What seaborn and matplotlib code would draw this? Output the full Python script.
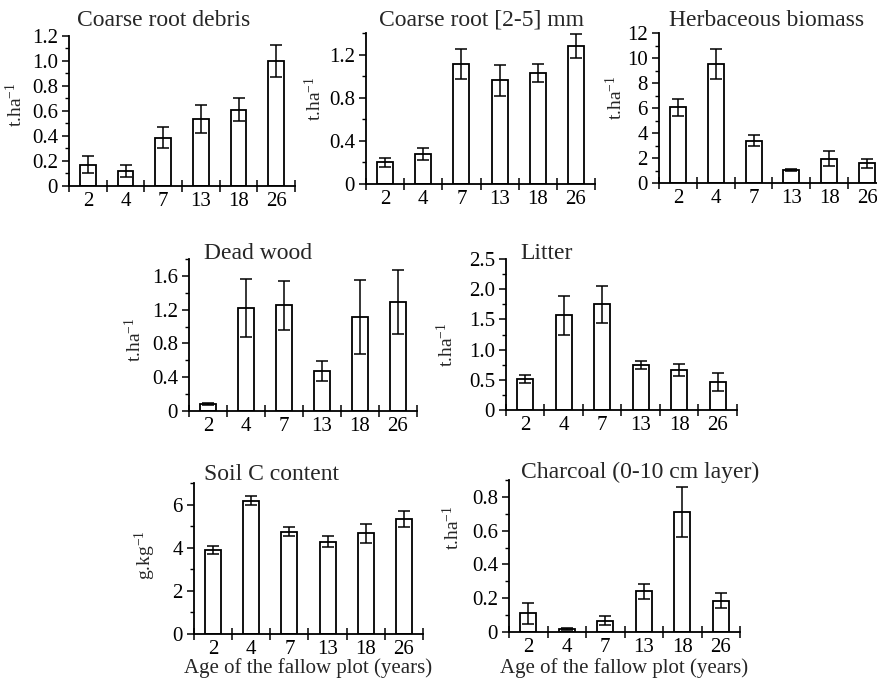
import matplotlib
matplotlib.use("Agg")
import matplotlib.pyplot as plt
import seaborn as sns
import pandas as pd
from matplotlib.ticker import MultipleLocator, FixedLocator

# ---------------- STYLE ----------------
sns.set_style("ticks")
plt.rcParams['font.family'] = ['Liberation Serif', 'DejaVu Serif']
plt.rcParams['mathtext.fontset'] = 'custom'
plt.rcParams['mathtext.rm'] = 'Liberation Serif'
plt.rcParams['mathtext.it'] = 'Liberation Serif:italic'

W, H = 878, 684

# ---------------- DATA ----------------
AGES = ["2", "4", "7", "13", "18", "26"]

debris_mean = [0.17, 0.12, 0.385, 0.535, 0.61, 1.0]
debris_err = [0.07, 0.045, 0.085, 0.11, 0.09, 0.13]

root_mean = [0.20, 0.275, 1.11, 0.96, 1.03, 1.28]
root_err = [0.04, 0.055, 0.14, 0.14, 0.085, 0.11]

herb_mean = [6.05, 9.5, 3.4, 1.05, 1.95, 1.57]
herb_err = [0.7, 1.2, 0.42, 0.05, 0.6, 0.38]

wood_mean = [0.08, 1.22, 1.25, 0.47, 1.115, 1.29]
wood_err = [0.01, 0.34, 0.29, 0.12, 0.44, 0.38]

litter_mean = [0.51, 1.565, 1.75, 0.75, 0.66, 0.46]
litter_err = [0.07, 0.33, 0.31, 0.065, 0.10, 0.15]

soil_mean = [3.9, 6.18, 4.75, 4.28, 4.66, 5.34]
soil_err = [0.2, 0.2, 0.23, 0.25, 0.45, 0.36]

charcoal_mean = [0.11, 0.016, 0.068, 0.24, 0.71, 0.185]
charcoal_err = [0.06, 0.005, 0.024, 0.045, 0.15, 0.045]

THA = "t.ha$^{-1}$"
GKG = "g.kg$^{-1}$"
XLAB = "Age of the fallow plot (years)"

# panel: title, mean, err, ylabel, ymax, major, minor, axes px (left, top, right, bottom),
#        title px (x, y), ylabel px (x, y), xlabel
PANELS = [
    ("Coarse root debris", debris_mean, debris_err, THA, 1.2, 0.2, 0.1,
     (69, 36, 295, 186), (164, 20), (16, 105), False),
    ("Coarse root [2-5] mm", root_mean, root_err, THA, 1.4, 0.4, 0.2,
     (366, 33, 595, 184), (482, 20), (315, 99), False),
    ("Herbaceous biomass", herb_mean, herb_err, THA, 12, 2, 1,
     (659, 33, 886, 183), (767, 20), (616, 98), False),
    ("Dead wood", wood_mean, wood_err, THA, 1.8, 0.4, 0.2,
     (189, 259, 417, 411), (258, 253), (135, 340), False),
    ("Litter", litter_mean, litter_err, THA, 2.5, 0.5, 0.25,
     (506, 259, 737, 410), (547, 253), (447, 345), False),
    ("Soil C content", soil_mean, soil_err, GKG, 7, 2, 1,
     (194, 483, 423, 634), (271, 474), (145, 555), True),
    ("Charcoal (0-10 cm layer)", charcoal_mean, charcoal_err, THA, 0.9, 0.2, 0.1,
     (509, 480, 740, 632), (640, 472), (452, 528), True),
]


def fmt_tick(v, step):
    if abs(v) < 1e-9:
        return "0"
    if step >= 1:
        return f"{v:.0f}"
    return f"{v:.1f}"


fig = plt.figure(figsize=(W / 100, H / 100), dpi=100)

for (titulo, media, error, ylab, ymax, major, minor,
     caja, pos_tit, pos_ylab, con_xlab) in PANELS:
    l, t, r, b = caja
    ax = fig.add_axes([l / W, 1 - b / H, (r - l) / W, (b - t) / H])

    df = pd.DataFrame({"edad": AGES, "valor": media})
    sns.barplot(data=df, x="edad", y="valor", order=AGES, color="white",
                saturation=1, edgecolor="black", linewidth=1.3, width=0.42,
                errorbar=None, ax=ax)
    ax.errorbar(range(len(AGES)), media, yerr=error, fmt="none",
                ecolor="black", elinewidth=1.1, capsize=4.5, capthick=1.1, zorder=5)

    ax.set_xlabel("")
    ax.set_ylabel("")
    sns.despine(ax=ax)
    for s in ("left", "bottom"):
        ax.spines[s].set_linewidth(1.3)
        ax.spines[s].set_color("black")

    # y ticks (no tick above ymax)
    n = int(ymax / major + 1e-9)
    ticks = [i * major for i in range(n + 1)]
    ax.set_yticks(ticks)
    ax.set_yticklabels([fmt_tick(v, major) for v in ticks])
    ax.yaxis.set_minor_locator(MultipleLocator(minor))
    ax.tick_params(axis="y", which="major", direction="out", length=5,
                   width=1.1, labelsize=15, pad=3, colors="black")
    ax.tick_params(axis="y", which="minor", direction="out", length=3,
                   width=1.0, colors="black")

    # x ticks: labels at bars, marks at slot boundaries
    ax.set_xticks(range(len(AGES)))
    ax.set_xticklabels(AGES)
    ax.xaxis.set_minor_locator(FixedLocator([i - 0.5 for i in range(len(AGES) + 1)]))
    ax.tick_params(axis="x", which="major", length=0, labelsize=15, pad=4,
                   colors="black")
    ax.tick_params(axis="x", which="minor", direction="inout", length=9,
                   width=1.1, colors="black")

    ax.set_xlim(-0.5, len(AGES) - 0.5)
    ax.set_ylim(0, ymax)

    fig.text(pos_tit[0] / W, 1 - pos_tit[1] / H, titulo, ha="center",
             va="center", fontsize=17)
    fig.text(pos_ylab[0] / W, 1 - pos_ylab[1] / H, ylab, ha="center",
             va="center", rotation=90, fontsize=14)
    if con_xlab:
        cx = (l + r) / 2
        fig.text(cx / W, 1 - 668 / H, XLAB, ha="center", va="center",
                 fontsize=15)

fig.savefig("out.png", dpi=100)
